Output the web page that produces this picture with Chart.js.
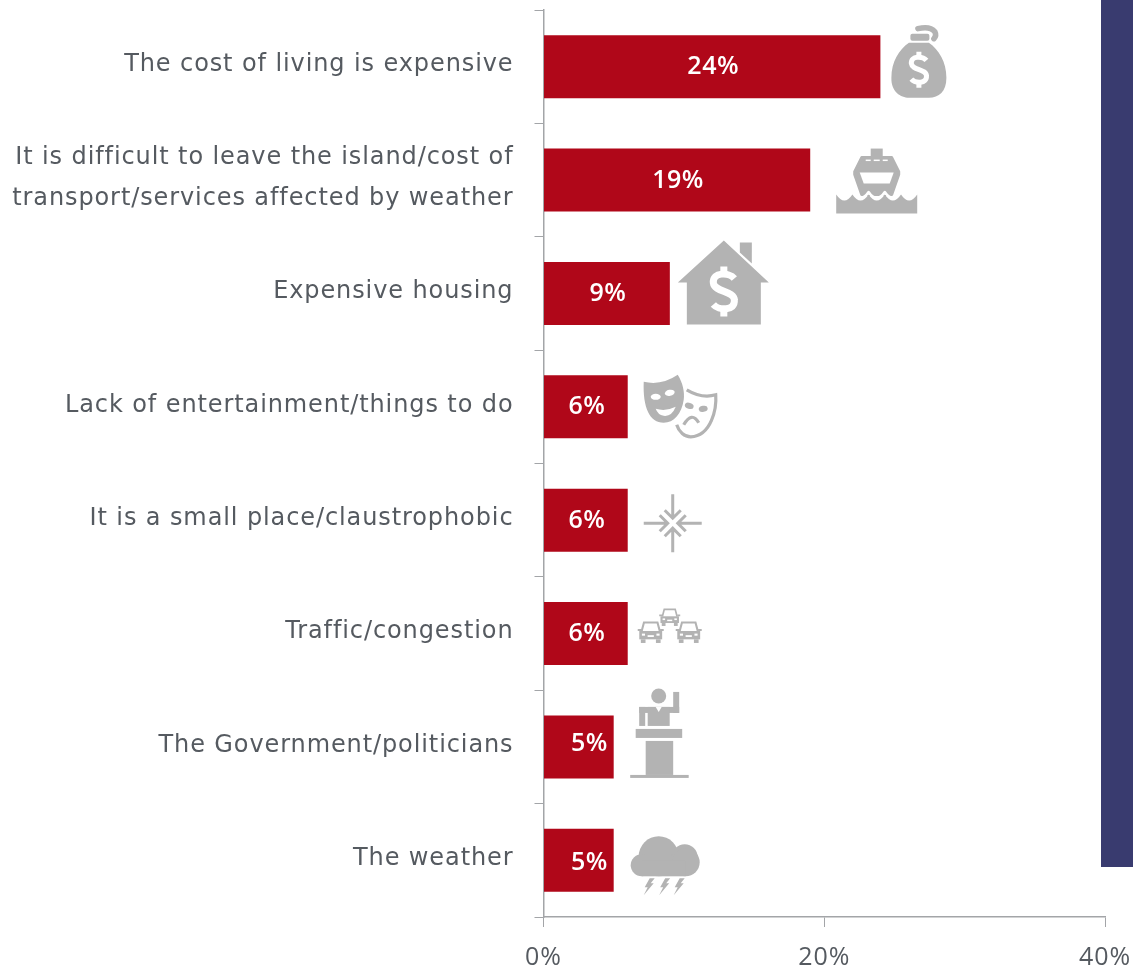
<!DOCTYPE html>
<html>
<head>
<meta charset="utf-8">
<style>
html,body{margin:0;padding:0;background:#fff;overflow:hidden}
#wrap{position:relative;width:1133px;height:969px}
#panel{position:absolute;left:1101px;top:0;width:32px;height:867px;background:#393b6f}
canvas{position:absolute;left:0;top:0}
</style>
<script src="https://cdn.jsdelivr.net/npm/chart.js@4"></script>
</head>
<body>
<div id="wrap"><canvas id="c" width="1133" height="969"></canvas><div id="panel"></div></div>
<script>
const categories = [
  "The cost of living is expensive",
  ["It is difficult to leave the island/cost of", "transport/services affected by weather"],
  "Expensive housing",
  "Lack of entertainment/things to do",
  "It is a small place/claustrophobic",
  "Traffic/congestion",
  "The Government/politicians",
  "The weather"
];
const values = [24, 19, 9, 6, 6, 6, 5, 5];
const xTicks = [0, 20, 40];

const FONT = "'Open Sans'";
const LABEL_FONT = "'DejaVu Sans'";
const GREY = "#b3b3b3";
const RED = "#b00719";
const TEXT = "#555a60";
const AXIS = "#a3a5a8";

function poly(c, pts){ c.beginPath(); pts.forEach((p,i)=> i? c.lineTo(p[0],p[1]) : c.moveTo(p[0],p[1])); c.closePath(); c.fill(); }
function rect(c,x0,y0,x1,y1){ c.fillRect(x0,y0,x1-x0,y1-y0); }
function ell(c,x,y,rx,ry,rot){ c.beginPath(); c.ellipse(x,y,rx,ry,rot||0,0,Math.PI*2); c.fill(); }
function dollar(c,x,y,h,lw){
  const w=h*0.42;
  c.save(); c.strokeStyle="#fff"; c.lineWidth=lw; c.lineCap="butt"; c.beginPath();
  c.moveTo(x+0.5*w,y-0.26*h);
  c.bezierCurveTo(x+0.25*w,y-0.38*h,x-0.55*w,y-0.4*h,x-0.5*w,y-0.17*h);
  c.bezierCurveTo(x-0.45*w,y+0.02*h,x+0.5*w,y-0.02*h,x+0.5*w,y+0.17*h);
  c.bezierCurveTo(x+0.55*w,y+0.4*h,x-0.25*w,y+0.38*h,x-0.5*w,y+0.26*h);
  c.stroke(); c.beginPath();
  c.moveTo(x,y-0.5*h); c.lineTo(x,y-0.34*h); c.moveTo(x,y+0.34*h); c.lineTo(x,y+0.5*h);
  c.stroke(); c.restore();
}
function bag(c){
  c.beginPath(); c.moveTo(-10,-19);
  c.bezierCurveTo(-20,-12,-27.5,0,-27.5,16); c.bezierCurveTo(-28,30,-18,36,-10,36);
  c.lineTo(10,36); c.bezierCurveTo(20,36,27.5,30,27.5,16); c.bezierCurveTo(27.5,0,20,-12,10,-19);
  c.closePath(); c.fill();
  c.beginPath(); c.roundRect(-8.5,-28,19,7,2); c.fill();
  c.lineWidth=5.5; c.lineCap="round"; c.beginPath(); c.moveTo(-1,-33); c.quadraticCurveTo(11,-36,16,-30); c.quadraticCurveTo(18,-26,15,-23); c.stroke();
  dollar(c,0,8,36,5);
}
function ship(c){
  rect(c,-6,-32,6,-24);
  c.lineJoin="round"; c.lineWidth=3;
  c.beginPath(); c.moveTo(-15,-23); c.lineTo(15,-23); c.lineTo(22,-9); c.lineTo(22,-6); c.lineTo(15,14); c.lineTo(-15,14); c.lineTo(-22,-6); c.lineTo(-22,-9); c.closePath(); c.fill(); c.stroke();
  c.fillStyle="#fff";
  poly(c,[[-17,-8],[17,-8],[13,3],[-13,3]]);
  rect(c,-11,-21,-6,-19.5); rect(c,-3,-21,3,-19.5); rect(c,6,-21,11,-19.5);
  const wave=(off)=>{ c.moveTo(-40.5,14+off); for(let i=0;i<5;i++){ c.quadraticCurveTo(-40.5+16.2*i+8.1,26+off,-40.5+16.2*(i+1),14+off);} };
  c.strokeStyle="#fff"; c.lineWidth=2.5; c.beginPath(); wave(-2.5); c.stroke();
  c.fillStyle=GREY; c.beginPath(); wave(0); c.lineTo(40.5,33); c.lineTo(-40.5,33); c.closePath(); c.fill();
}
function house(c){
  poly(c,[[0,-42],[45,0],[37,0],[37,42],[-37,42],[-37,0],[-46,0]]);
  poly(c,[[16,-40],[28,-40],[28,-19],[16,-30]]);
  dollar(c,0,9,50,7);
}
function masks(c){
  c.beginPath(); c.moveTo(-36,-26); c.quadraticCurveTo(-18,-22,-2,-33);
  c.bezierCurveTo(3,-25,5,-16,4,-8); c.bezierCurveTo(2,6,-6,15,-16,15); c.bezierCurveTo(-30,15,-37,0,-36,-26); c.closePath(); c.fill();
  c.save(); c.fillStyle="#fff";
  ell(c,-24,-11,5,3,0); ell(c,-10,-15,5,3,-0.2);
  c.beginPath(); c.moveTo(-24,1); c.quadraticCurveTo(-14,4,-4,-1); c.quadraticCurveTo(-8,9,-16,8); c.quadraticCurveTo(-22,7,-24,1); c.closePath(); c.fill();
  c.restore();
  c.lineWidth=3.2;
  c.beginPath(); c.moveTo(7,-18); c.quadraticCurveTo(22,-9,36,-13); c.bezierCurveTo(37,0,32,28,11,29); c.bezierCurveTo(5,29,-1,24,-3,17); c.stroke();
  ell(c,9.5,-2,4.5,3,0.3); ell(c,23.5,1,4.5,3,-0.2);
  c.beginPath(); c.moveTo(4,17); c.quadraticCurveTo(12,3,19,15); c.stroke();
}
function compress(c){
  c.lineWidth=3;
  for(let i=0;i<4;i++){
    c.save(); c.rotate(i*Math.PI/2);
    c.beginPath(); c.moveTo(0,-29); c.lineTo(0,-5); c.moveTo(-8,-13); c.lineTo(0,-5); c.lineTo(8,-13); c.stroke();
    c.restore();
  }
}
function car(c,x,y,w){
  c.save(); c.translate(x,y); c.scale(w,w);
  c.lineWidth=0.08;
  c.beginPath(); c.moveTo(-.35,-.05); c.lineTo(-.26,-.39); c.lineTo(.26,-.39); c.lineTo(.35,-.05); c.stroke();
  c.beginPath(); c.moveTo(-.5,-.1); c.lineTo(-.36,-.1); c.moveTo(.36,-.1); c.lineTo(.5,-.1); c.stroke();
  rect(c,-.44,-.06,.44,.26);
  rect(c,-.38,.26,-.2,.4); rect(c,.2,.26,.38,.4);
  c.fillStyle="#fff";
  rect(c,-.34,.04,-.22,.12); rect(c,.22,.04,.34,.12); rect(c,-.12,.1,.12,.17);
  c.restore();
}
function cars(c){ car(c,0,-8,21); car(c,-19,7,26); car(c,19,7,26); }
function speaker(c){
  ell(c,0,-38,7.5,7.5);
  rect(c,14.5,-42,20.5,-21); rect(c,-19.5,-27,20.5,-21);
  rect(c,-11,-27,11,-8); rect(c,-19.5,-27,-13.5,-8);
  c.save(); c.fillStyle="#fff"; poly(c,[[-3,-27],[0,-22],[3,-27]]); c.restore();
  rect(c,-23,-5,23.5,4); rect(c,-13,7,14.5,41); rect(c,-28.5,41,30,44);
}
function cloud(c){
  ell(c,-6,-9,20,20); ell(c,20,-8,13,13); ell(c,21,-3,14,14); ell(c,-23,0,11,11);
  rect(c,-23,-5,21,11);
  [-16,-0.5,14].forEach(x=>poly(c,[[x+1,13],[x-4,22],[x-1,22],[x-5,30],[x+5,18],[x+2,18],[x+6,13]]));
}
const icons = [bag, ship, house, masks, compress, cars, speaker, cloud];
const iconGap = [38.5, 66.5, 54, 52, 45, 42, 45, 51];
const iconLift = [-5, 0.5, -11, 1, 3, -8, -13, 5];
const labelLift = [0.5, 0.5, 0.5, 0.5, 0.5, 0.5, -3, 3];

const decor = {
  id: "decor",
  beforeDraw(chart){ chart.ctx.letterSpacing = "0.9px"; },
  afterDatasetsDraw(chart){
    const c = chart.ctx, meta = chart.getDatasetMeta(0);
    meta.data.forEach((bar,i)=>{
      c.save();
      c.translate(bar.x + iconGap[i], bar.y + iconLift[i]);
      c.fillStyle = GREY; c.strokeStyle = GREY;
      icons[i](c);
      c.restore();
      c.save();
      c.fillStyle = "#fff";
      c.letterSpacing = "0.5px";
      c.font = "600 25px " + FONT;
      c.textAlign = "center"; c.textBaseline = "middle";
      const mid = (bar.x + bar.base)/2 + (values[i] <= 5 ? 10.5 : 1);
      c.fillText(values[i] + "%", mid, bar.y + labelLift[i]);
      c.restore();
    });
  }
};

new Chart(document.getElementById("c"), {
  type: "bar",
  data: { labels: categories, datasets: [{ data: values, backgroundColor: RED, barPercentage: 0.555, categoryPercentage: 1 }] },
  options: {
    indexAxis: "y", responsive: false, animation: false,
    layout: { padding: { left: 0, right: 28, top: 10, bottom: 0 } },
    plugins: { legend: { display: false }, tooltip: { enabled: false } },
    scales: {
      x: {
        min: xTicks[0], max: xTicks[2],
        afterFit(s){ s.height = 52; s.paddingLeft = 0; s.paddingRight = 0; },
        afterBuildTicks(s){ s.ticks = xTicks.map(v=>({value:v})); },
        border: { color: AXIS, width: 1.5 },
        grid: { drawOnChartArea: false, color: AXIS, tickLength: 10, lineWidth: 1 },
        ticks: { color: TEXT, font: { family: FONT, size: 25 }, padding: 16, maxRotation: 0, callback: v => v + "%" }
      },
      y: {
        afterFit(s){ s.width = 543.5; s.paddingTop = 0; s.paddingBottom = 0; },
        border: { color: AXIS, width: 1.5 },
        grid: { drawOnChartArea: false, color: AXIS, tickLength: 9, offset: true, lineWidth: 1 },
        ticks: { color: TEXT, font: { family: LABEL_FONT, size: 24, lineHeight: 1.71 }, padding: 21, labelOffset: -1.5, autoSkip: false, crossAlign: "near" }
      }
    }
  },
  plugins: [decor]
});
</script>
</body>
</html>
